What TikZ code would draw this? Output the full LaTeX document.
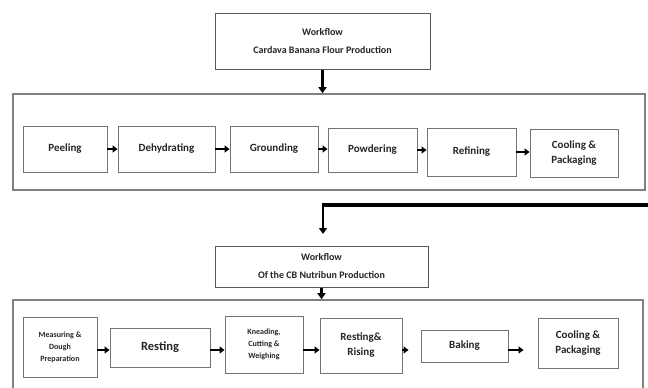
\documentclass[tikz,border=0pt]{standalone}
\usepackage{fontspec}
\setmainfont{Carlito}
\usetikzlibrary{arrows.meta}
\begin{document}
\begin{tikzpicture}[x=1pt,y=-1pt,
  box/.style={draw=black!55, line width=0.9pt, fill=white, align=center, inner sep=0pt,
    font=\bfseries\fontsize{11}{15}\selectfont, text=black!85},
  smallbox/.style={box, font=\bfseries\fontsize{8}{12}\selectfont},
  bigbox/.style={draw=black!50, line width=1.6pt, fill=white, inner sep=0pt},
  titlebox/.style={draw=black!65, line width=1pt, fill=white, align=center, inner sep=0pt,
    font=\bfseries\fontsize{10}{18}\selectfont, text=black!85},
  flow/.style={-{Triangle[length=5pt,width=7pt]}, line width=2.6pt, black},
  down/.style={-{Triangle[length=6pt,width=8pt]}, line width=2.8pt, black},
]
\useasboundingbox (0,0) rectangle (648,388);

% ---- part 1
\node[titlebox, minimum width=215, minimum height=56] (t1) at (322.5,41) {Workflow\\Cardava Banana Flour Production};
\node[bigbox, minimum width=632, minimum height=96] (f1) at (329,142) {};

\node[box, minimum width=84, minimum height=46] (a1) at (65,149) {Peeling};
\node[box, minimum width=97, minimum height=46] (a2) at (166.5,149) {Dehydrating};
\node[box, minimum width=88, minimum height=46] (a3) at (274,149) {Grounding};
\node[box, minimum width=89, minimum height=44] (a4) at (372.5,150) {Powdering};
\node[box, minimum width=89, minimum height=48] (a5) at (471.5,152) {Refining};
\node[box, minimum width=88, minimum height=48] (a6) at (574,153) {Cooling \&\\Packaging};

\draw[flow] (a1.east) -- (a2.west |- a1.east);
\draw[flow] (a2.east) -- (a3.west |- a2.east);
\draw[flow] (a3.east) -- (a4.west |- a3.east);
\draw[flow] (a4.east) -- (a5.west |- a4.east);
\draw[flow] (a5.east) -- (a6.west |- a5.east);

\draw[down] (t1.south) -- (f1.north -| t1.south);

% ---- connector
\coordinate (cr) at (648,205);
\coordinate (cbend) at (323,205);
\coordinate (cend) at (323,234);
\node[titlebox, minimum width=213, minimum height=41] (t2) at (321.5,266.5) {Workflow\\Of the CB Nutribun Production};
\draw[line width=4pt] (cr) -- ([xshift=-1.4pt]cbend);
\draw[down] ([yshift=2pt]cbend) -- (cend);

% ---- part 2
\node[bigbox, minimum width=630, minimum height=110] (f2) at (328,355) {};
\draw[down] (t2.south) -- (f2.north -| t2.south);

\node[smallbox, minimum width=74, minimum height=60] (b1) at (60,347) {Measuring \&\\Dough\\Preparation};
\node[box, minimum width=100, minimum height=39, font=\bfseries\fontsize{12.5}{15}\selectfont] (b2) at (160,347.5) {Resting};
\node[smallbox, minimum width=78, minimum height=57] (b3) at (264,344.5) {Kneading,\\Cutting \&\\Weighing};
\node[box, minimum width=82, minimum height=55] (b4) at (361,345.5) {Resting\&\\Rising};
\node[box, minimum width=87, minimum height=32] (b5) at (464.5,346) {Baking};
\node[box, minimum width=80, minimum height=50] (b6) at (578,343) {Cooling \&\\Packaging};

\draw[flow] (b1.east |- 0,350) -- (b2.west |- 0,350);
\draw[flow] (b2.east |- 0,350) -- (b3.west |- 0,350);
\draw[flow] (b3.east |- 0,350) -- (b4.west |- 0,350);
\draw[flow] (b4.east |- 0,350) -- ([xshift=-12pt]b5.west |- 0,350);
\draw[flow] (b5.east |- 0,350) -- ([xshift=-14pt]b6.west |- 0,350);
\end{tikzpicture}
\end{document}
